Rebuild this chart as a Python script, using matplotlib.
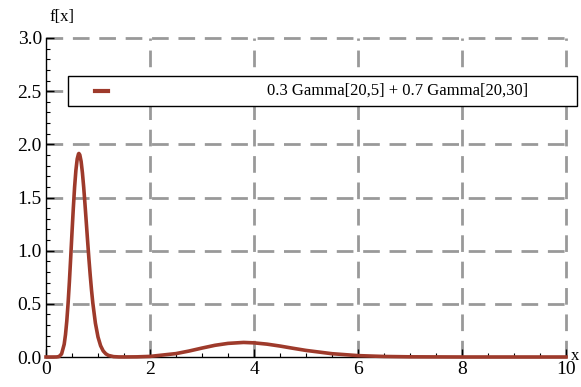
import matplotlib
matplotlib.use('Agg')
import matplotlib.pyplot as plt
from matplotlib.lines import Line2D
from matplotlib.patches import Rectangle

# values: 0.3 Gamma[20,5] + 0.7 Gamma[20,30]
x_vals = [0.0, 0.1, 0.2, 0.25, 0.3, 0.35, 0.375, 0.4, 0.425, 0.45, 0.475, 0.5, 0.525,
          0.55, 0.575, 0.6, 0.625, 0.633, 0.65, 0.675, 0.7, 0.725, 0.75, 0.775, 0.8,
          0.825, 0.85, 0.875, 0.9, 0.95, 1.0, 1.05, 1.1, 1.15, 1.2, 1.3, 1.4, 1.5, 1.75,
          2.0, 2.5, 2.75, 3.0, 3.25, 3.5, 3.8, 4.0, 4.25, 4.5, 4.75, 5.0, 5.5, 6.0, 6.5,
          7.0, 8.0, 10.0]
y_vals = [0.0, 0.0, 0.0003, 0.004, 0.029, 0.120, 0.211, 0.339, 0.507, 0.709, 0.935, 1.171, 1.397,
          1.598, 1.756, 1.862, 1.910, 1.914, 1.901, 1.840, 1.734, 1.596, 1.435, 1.264, 1.092,
          0.925, 0.771, 0.631, 0.509, 0.318, 0.188, 0.106, 0.057, 0.030, 0.015, 0.0034, 0.0008, 0.0005, 0.0015,
          0.0056, 0.032, 0.056, 0.084, 0.110, 0.128, 0.137, 0.133, 0.121, 0.103, 0.082, 0.062, 0.031, 0.013, 0.005,
          0.0017, 0.0001, 0.0]
legend_label = "0.3 Gamma[20,5] + 0.7 Gamma[20,30]"
x_ticks = [0, 2, 4, 6, 8, 10]
y_ticks = [0.0, 0.5, 1.0, 1.5, 2.0, 2.5, 3.0]

line_color = '#9e3a2b'
serif = 'Liberation Serif'

fig = plt.figure(figsize=(5.81, 3.87), dpi=100)
ax = fig.add_axes([46 / 581, 1 - 357 / 387, (566 - 46) / 581, (357 - 38) / 387])

ax.plot(x_vals, y_vals, color=line_color, linewidth=2.6, zorder=3, clip_on=False,
        solid_joinstyle='round')

ax.set_xlim(0, 10)
ax.set_ylim(0, 3.0)
ax.set_xticks(x_ticks)
ax.set_xticklabels([str(t) for t in x_ticks])
ax.set_yticks(y_ticks)
ax.set_yticklabels(['%.1f' % t for t in y_ticks])
ax.set_xticks([i * 0.5 for i in range(21)], minor=True)
ax.set_yticks([i * 0.1 for i in range(31)], minor=True)

for lbl in ax.get_xticklabels() + ax.get_yticklabels():
    lbl.set_fontfamily(serif)
    lbl.set_fontsize(14)

ax.tick_params(which='major', direction='in', length=6, width=1, pad=3)
ax.tick_params(which='minor', direction='in', length=3, width=0.8)

for s in ['top', 'right']:
    ax.spines[s].set_visible(False)
for s in ['left', 'bottom']:
    ax.spines[s].set_linewidth(1)
    ax.spines[s].set_color('black')

# dashed grid, including the top and right edges
for gx in x_ticks[1:]:
    ax.axvline(gx, color='#999999', linewidth=2, linestyle=(0, (6, 3.5)), zorder=1, clip_on=False)
for gy in y_ticks[1:]:
    ax.axhline(gy, color='#999999', linewidth=2, linestyle=(0, (6, 3.5)), zorder=1, clip_on=False)

# axis labels Mathematica style
fig.text(62 / 581, 1 - 17 / 387, 'f[x]', fontfamily=serif, fontsize=12, ha='center', va='center')
fig.text(571 / 581, 1 - 356 / 387, 'x', fontfamily=serif, fontsize=12, ha='left', va='center')

# legend box
fig.add_artist(Rectangle((68 / 581, 1 - 106 / 387), (577 - 68) / 581, 30 / 387,
                         transform=fig.transFigure, facecolor='white',
                         edgecolor='black', linewidth=1, zorder=5))
fig.add_artist(Line2D([95 / 581, 108 / 581], [1 - 91 / 387, 1 - 91 / 387],
                      transform=fig.transFigure, color=line_color, linewidth=3, zorder=6))
fig.text(398 / 581, 1 - 91 / 387, legend_label, fontfamily=serif, fontsize=12,
         ha='center', va='center', zorder=6)

fig.savefig('out.png', dpi=100)
